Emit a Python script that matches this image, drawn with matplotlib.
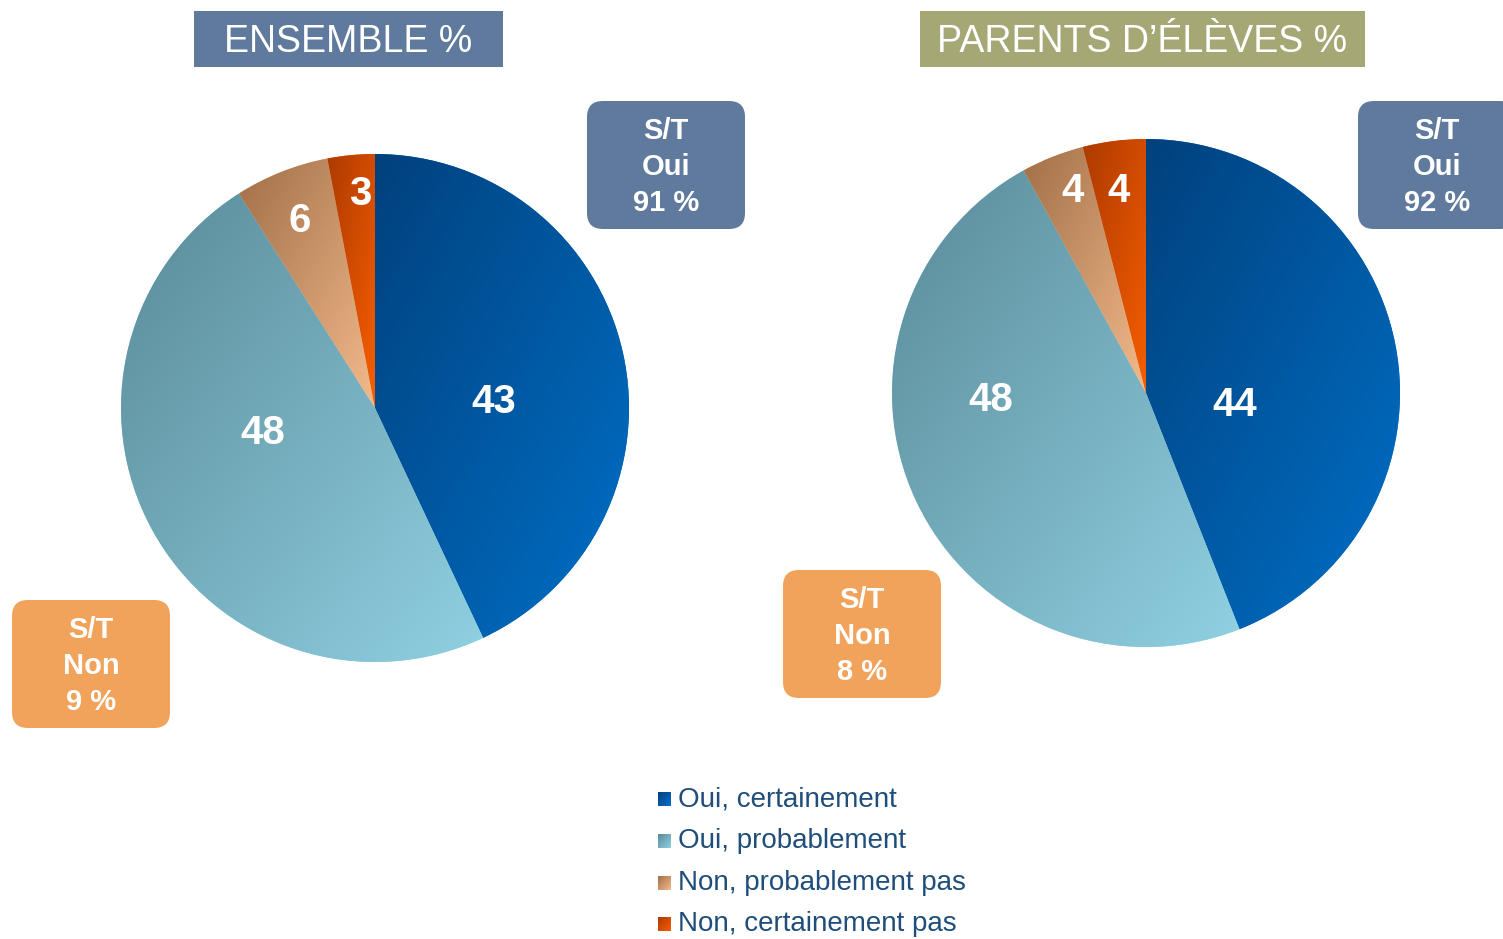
import numpy as np
import matplotlib.pyplot as plt
from matplotlib.patches import FancyBboxPatch, Rectangle
from matplotlib.colors import LinearSegmentedColormap

plt.rcParams['font.family'] = ['Liberation Sans', 'DejaVu Sans']

# data
categories = ['Oui, certainement', 'Oui, probablement',
              'Non, probablement pas', 'Non, certainement pas']
ensemble = [43, 48, 6, 3]
parents = [44, 48, 4, 4]
titles = ['ENSEMBLE %', 'PARENTS D\u2019\u00c9L\u00c8VES %']
st_oui = [91, 92]
st_non = [9, 8]

# gradient (dark, light) per category
grad = [('#00417d', '#0070c8'),
        ('#5a8a97', '#90d1e3'),
        ('#a26f48', '#f3bb8c'),
        ('#ad3a00', '#f75e00')]

W, H = 1503, 939
fig = plt.figure(figsize=(W / 100, H / 100), dpi=100)
ax = fig.add_axes([0, 0, 1, 1])


def Y(y):
    # pixel row -> data y
    return H - y


def gradient_fill(patch, c0, c1, z=2):
    v = patch.get_path().vertices
    v = patch.get_patch_transform().transform(v)
    x0, x1 = v[:, 0].min(), v[:, 0].max()
    y0, y1 = v[:, 1].min(), v[:, 1].max()
    n = 200
    gx, gy = np.meshgrid(np.linspace(0, 1, n), np.linspace(0, 1, n))
    g = (gx + gy) / 2  # top-left dark -> bottom-right light
    cmap = LinearSegmentedColormap.from_list('g', [c0, c1])
    im = ax.imshow(g, cmap=cmap, extent=(x0, x1, y0, y1), origin='upper',
                   aspect='auto', zorder=z, interpolation='bilinear')
    im.set_clip_path(patch)


pies = [
    dict(vals=ensemble, c=(375, 408), lab=[(0.47, -8), (0.45, -18), (0.81, 0), (0.86, -1.5)]),
    dict(vals=parents, c=(1146, 393), lab=[(0.35, -16), (0.61, -24), (0.86, -2), (0.82, 0.5)]),
]
R = 254
for p in pies:
    cx, cy = p['c'][0], Y(p['c'][1])
    wedges, _ = ax.pie(p['vals'], radius=R, center=(cx, cy), startangle=90,
                       counterclock=False, colors=[g[1] for g in grad],
                       wedgeprops=dict(linewidth=0), frame=True)
    for w, (c0, c1), v, (rf, sh) in zip(wedges, grad, p['vals'], p['lab']):
        w.set_zorder(1)
        gradient_fill(w, c0, c1)
        a = np.deg2rad((w.theta1 + w.theta2) / 2 + sh)
        ax.text(cx + rf * R * np.cos(a), cy + rf * R * np.sin(a) - 4, str(v),
                color='white', fontsize=29, fontweight='bold',
                ha='center', va='center', zorder=5)

# title banners
banners = [(194, 11, 309, 56, '#5f7a9c'), (920, 11, 445, 56, '#a5a874')]
for (x, y, w, h, col), t in zip(banners, titles):
    ax.add_patch(Rectangle((x, Y(y + h)), w, h, facecolor=col, edgecolor='none', zorder=3))
    ax.text(x + w / 2, Y(y + h / 2) - 3, t, color='white', fontsize=27,
            ha='center', va='center', zorder=4)

# S/T boxes
boxes = [(587, 101, '#5f7a9c', 'Oui', st_oui[0]),
         (12, 600, '#f1a35b', 'Non', st_non[0]),
         (1358, 101, '#5f7a9c', 'Oui', st_oui[1]),
         (783, 570, '#f1a35b', 'Non', st_non[1])]
bw, bh, rad = 158, 128, 16
for x, y, col, word, val in boxes:
    ax.add_patch(FancyBboxPatch((x + rad, Y(y + bh) + rad), bw - 2 * rad, bh - 2 * rad,
                                boxstyle='round,pad=%d' % rad, facecolor=col,
                                edgecolor='none', zorder=3))
    ax.text(x + bw / 2, Y(y + bh / 2) - 2, 'S/T\n%s\n%d %%' % (word, val), color='white',
            fontsize=21, fontweight='bold', ha='center', va='center',
            linespacing=1.38, zorder=4)

# legend
for i, (lab, (c0, c1)) in enumerate(zip(categories, grad)):
    yy = 799 + i * 41.8
    sq = Rectangle((658, Y(yy + 7)), 13, 14, facecolor=c1, edgecolor='none', zorder=1)
    ax.add_patch(sq)
    gradient_fill(sq, c0, c1)
    ax.text(678, Y(yy), lab, color='#1f4e7a', fontsize=20, ha='left', va='center')

ax.set_xlim(0, W)
ax.set_ylim(0, H)
ax.set_aspect('auto')
ax.axis('off')
fig.savefig('out.png', dpi=100)
